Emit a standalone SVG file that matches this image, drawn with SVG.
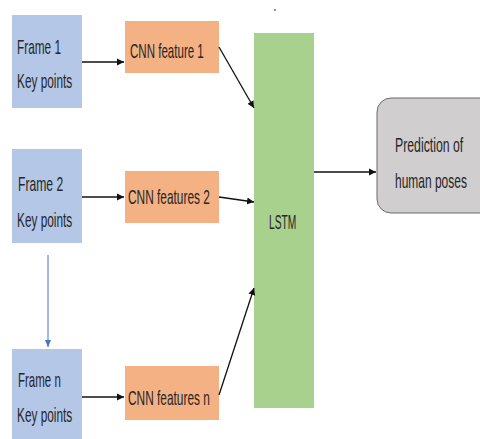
<svg xmlns="http://www.w3.org/2000/svg" width="480" height="439" viewBox="0 0 480 439">
<defs>
<marker id="ah" markerWidth="8" markerHeight="8" refX="7" refY="4" orient="auto" markerUnits="userSpaceOnUse">
<path d="M0,0.5 L7,4 L0,7.5 Z" fill="#111"/>
</marker>
<marker id="ahb" markerWidth="8" markerHeight="8" refX="7" refY="4" orient="auto" markerUnits="userSpaceOnUse">
<path d="M0,1 L7,4 L0,7 Z" fill="#4472C4"/>
</marker>
<style>
.frame{fill:#B4C7E7}
.cnn{fill:#F4B183}
.t{font-family:"Liberation Sans",Arial,sans-serif;font-size:20px;fill:#262626}
.c{stroke:#111;stroke-width:1.3;fill:none;marker-end:url(#ah)}
</style>
</defs>
<rect width="480" height="439" fill="#fff"/>
<circle cx="275" cy="10" r="0.9" fill="#666"/>
<g id="frame1">
<rect class="frame" x="12" y="15" width="70" height="93"/>
<text class="t" transform="translate(17,54) scale(0.62,1)" textLength="71" lengthAdjust="spacingAndGlyphs">Frame 1</text>
<text class="t" transform="translate(17,88) scale(0.62,1)" textLength="89" lengthAdjust="spacingAndGlyphs">Key points</text>
</g>
<g id="cnn1">
<rect class="cnn" x="125" y="21" width="94" height="52"/>
<text class="t" transform="translate(130,58) scale(0.62,1)" textLength="119" lengthAdjust="spacingAndGlyphs">CNN feature 1</text>
</g>
<g id="frame2">
<rect class="frame" x="12" y="149" width="70" height="94"/>
<text class="t" transform="translate(18,191) scale(0.62,1)" textLength="73" lengthAdjust="spacingAndGlyphs">Frame 2</text>
<text class="t" transform="translate(17,227) scale(0.62,1)" textLength="89" lengthAdjust="spacingAndGlyphs">Key points</text>
</g>
<g id="cnn2">
<rect class="cnn" x="125" y="171" width="94" height="52"/>
<text class="t" transform="translate(128,204) scale(0.62,1)" textLength="132" lengthAdjust="spacingAndGlyphs">CNN features 2</text>
</g>
<g id="framen">
<rect class="frame" x="12" y="349" width="70" height="95"/>
<text class="t" transform="translate(18,387) scale(0.62,1)" textLength="69" lengthAdjust="spacingAndGlyphs">Frame n</text>
<text class="t" transform="translate(17,422) scale(0.62,1)" textLength="89" lengthAdjust="spacingAndGlyphs">Key points</text>
</g>
<g id="cnnn">
<rect class="cnn" x="125" y="366" width="94" height="54"/>
<text class="t" transform="translate(128,405) scale(0.62,1)" textLength="132" lengthAdjust="spacingAndGlyphs">CNN features n</text>
</g>
<g id="lstm">
<rect x="254" y="33" width="60" height="375" fill="#A9D18E"/>
<text class="t" transform="translate(269,229) scale(0.62,1)" textLength="44" lengthAdjust="spacingAndGlyphs">LSTM</text>
</g>
<g id="prediction">
<rect x="377" y="98" width="120" height="115" rx="14" ry="14" fill="#D0CECE" stroke="#6B6B6B" stroke-width="1"/>
<text class="t" transform="translate(395,152) scale(0.62,1)" textLength="110" lengthAdjust="spacingAndGlyphs">Prediction of</text>
<text class="t" transform="translate(395,188) scale(0.62,1)" textLength="116" lengthAdjust="spacingAndGlyphs">human poses</text>
</g>
<g id="connectors">
<line class="c" x1="82" y1="62" x2="124" y2="62"/>
<line class="c" x1="82" y1="197" x2="124" y2="197"/>
<line class="c" x1="82" y1="397" x2="124" y2="397"/>
<line class="c" x1="219" y1="47" x2="254" y2="108"/>
<line class="c" x1="219" y1="197" x2="254" y2="202"/>
<line class="c" x1="219" y1="395" x2="254" y2="288"/>
<line class="c" x1="314" y1="172" x2="376" y2="172"/>
<line x1="48" y1="255" x2="48" y2="347" stroke="#4472C4" stroke-width="1" marker-end="url(#ahb)"/>
</g>
</svg>
